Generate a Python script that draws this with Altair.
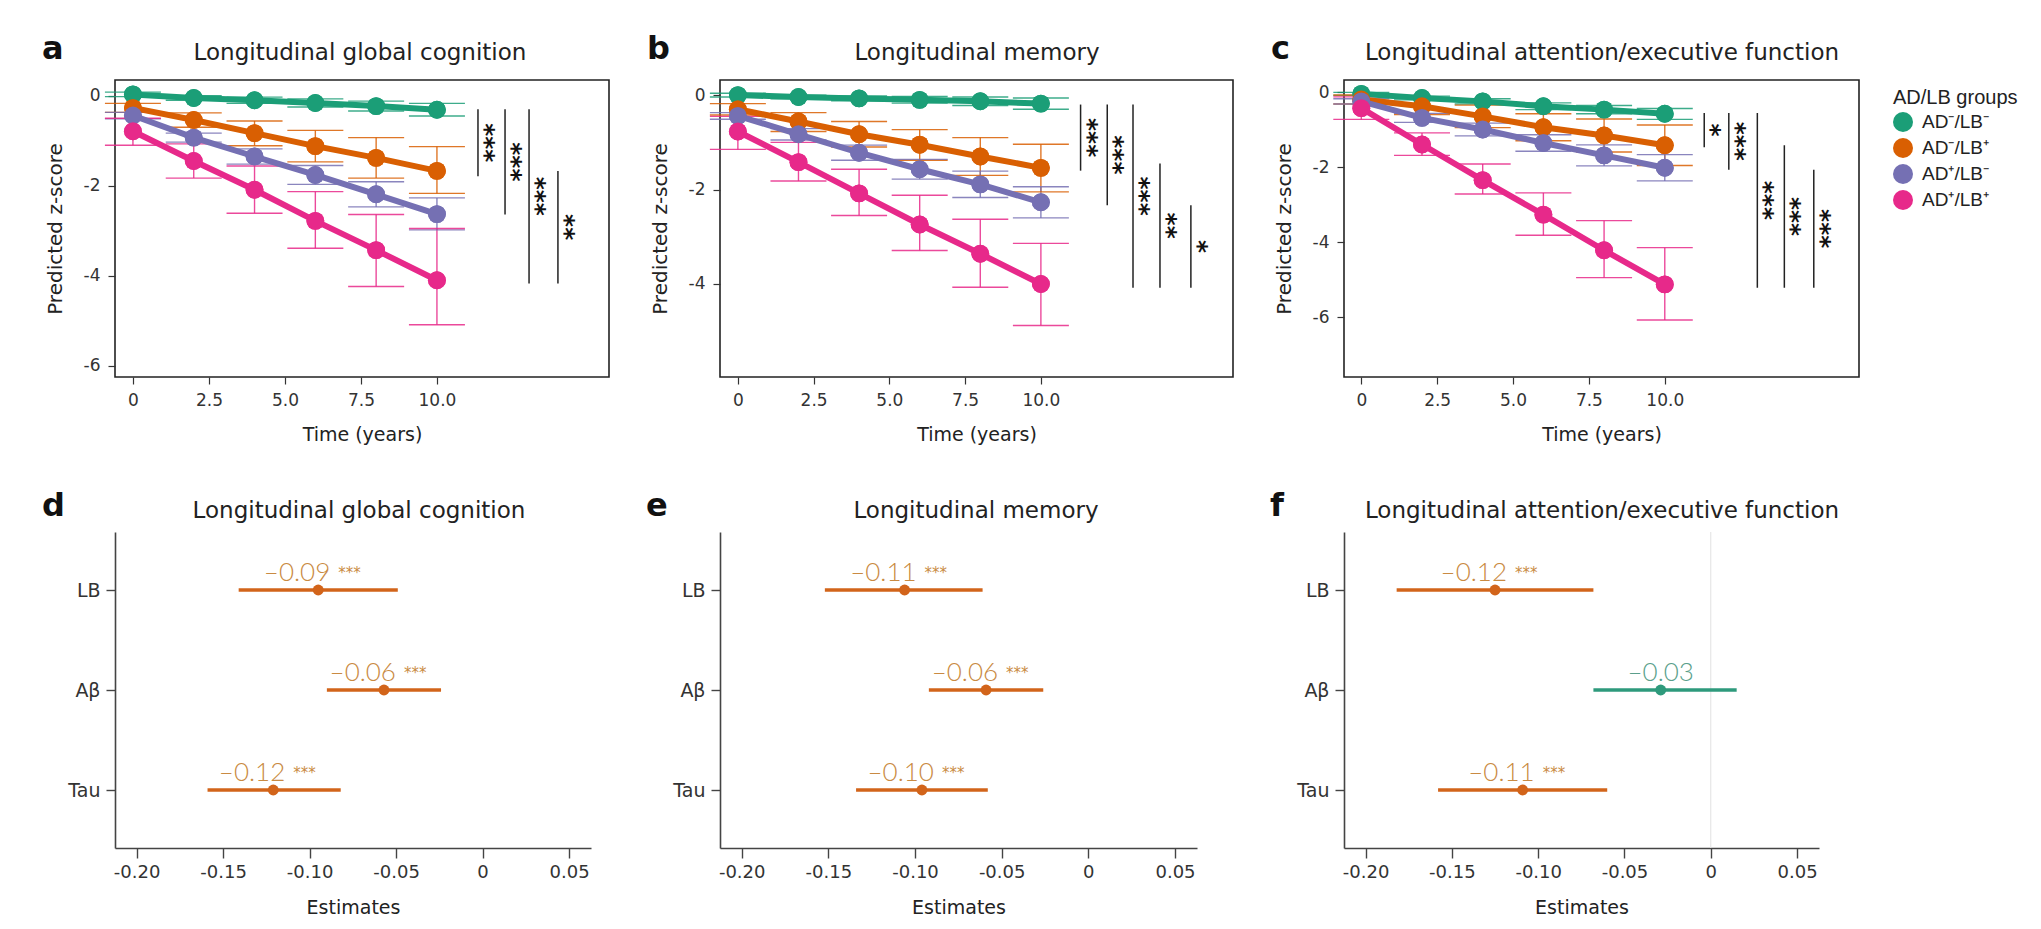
import altair as alt
import pandas as pd

FONT = "DejaVu Sans"
LFONT = "Liberation Sans"
NFONT = "Lato"

groups = ["AD⁻/LB⁻", "AD⁻/LB⁺", "AD⁺/LB⁻", "AD⁺/LB⁺"]
group_colors = ["#1b9e77", "#d95f02", "#7570b3", "#e7298a"]
years = [0, 2, 4, 6, 8, 10]
time_ticks = [0, 2.5, 5, 7.5, 10]

# ---- panel a: longitudinal global cognition (rows follow `groups`)
a_mean = [[0.03, -0.05, -0.10, -0.16, -0.23, -0.31],
          [-0.27, -0.54, -0.83, -1.12, -1.38, -1.67],
          [-0.44, -0.93, -1.35, -1.76, -2.19, -2.63],
          [-0.79, -1.45, -2.09, -2.78, -3.43, -4.10]]
a_lo = [[-0.02, -0.10, -0.17, -0.25, -0.34, -0.45],
        [-0.37, -0.70, -1.11, -1.47, -1.83, -2.17],
        [-0.51, -1.03, -1.52, -1.97, -2.47, -2.98],
        [-1.10, -1.83, -2.61, -3.39, -4.24, -5.09]]
a_hi = [[0.08, 0.00, -0.03, -0.07, -0.12, -0.17],
        [-0.17, -0.38, -0.56, -0.77, -0.93, -1.13],
        [-0.37, -0.83, -1.18, -1.55, -1.91, -2.27],
        [-0.50, -1.07, -1.56, -2.13, -2.64, -2.95]]
a_br_x = [11.35, 12.24, 13.03, 13.98]
a_br_y1 = [-0.30, -0.30, -0.30, -1.67]
a_br_y2 = [-1.79, -2.64, -4.17, -4.17]
a_br_stars = ["***", "***", "***", "**"]

# ---- panel b: longitudinal memory
b_mean = [[0.00, -0.04, -0.07, -0.10, -0.13, -0.18],
          [-0.30, -0.56, -0.83, -1.05, -1.30, -1.54],
          [-0.44, -0.83, -1.22, -1.57, -1.89, -2.27],
          [-0.77, -1.42, -2.08, -2.74, -3.36, -4.00]]
b_lo = [[-0.04, -0.08, -0.12, -0.17, -0.22, -0.30],
        [-0.42, -0.77, -1.10, -1.38, -1.70, -2.05],
        [-0.51, -0.95, -1.38, -1.78, -2.17, -2.60],
        [-1.15, -1.82, -2.55, -3.29, -4.07, -4.88]]
b_hi = [[0.04, 0.00, -0.02, -0.03, -0.04, -0.06],
        [-0.18, -0.37, -0.56, -0.73, -0.90, -1.04],
        [-0.37, -0.71, -1.06, -1.36, -1.61, -1.94],
        [-0.45, -1.00, -1.57, -2.12, -2.63, -3.14]]
b_br_x = [11.31, 12.19, 13.04, 13.93, 14.95]
b_br_y1 = [-0.20, -0.20, -0.20, -1.45, -2.33]
b_br_y2 = [-1.60, -2.33, -4.08, -4.08, -4.08]
b_br_stars = ["***", "***", "***", "**", "*"]

# ---- panel c: longitudinal attention/executive function
c_mean = [[-0.05, -0.16, -0.25, -0.38, -0.47, -0.58],
          [-0.20, -0.38, -0.65, -0.94, -1.16, -1.42],
          [-0.25, -0.69, -1.00, -1.36, -1.69, -2.02],
          [-0.43, -1.40, -2.35, -3.27, -4.22, -5.13]]
c_lo = [[-0.09, -0.21, -0.32, -0.47, -0.58, -0.73],
        [-0.32, -0.60, -0.95, -1.30, -1.60, -1.96],
        [-0.32, -0.81, -1.17, -1.58, -1.97, -2.37],
        [-0.73, -1.69, -2.72, -3.82, -4.95, -6.08]]
c_hi = [[-0.01, -0.11, -0.18, -0.29, -0.36, -0.44],
        [-0.08, -0.16, -0.35, -0.58, -0.72, -0.88],
        [-0.18, -0.57, -0.83, -1.14, -1.41, -1.67],
        [-0.13, -1.09, -1.92, -2.69, -3.43, -4.15]]
c_br_x = [11.30, 12.11, 13.05, 13.94, 14.91]
c_br_y1 = [-0.56, -0.56, -0.56, -1.42, -2.07]
c_br_y2 = [-1.47, -2.07, -5.22, -5.22, -5.22]
c_br_stars = ["*", "***", "***", "***", "***"]

# ---- panels d-f: estimates
terms = ["LB", "Aβ", "Tau"]
est_ticks = [-0.20, -0.15, -0.10, -0.05, 0, 0.05]
d_est = [-0.095, -0.057, -0.121]
d_lo = [-0.141, -0.090, -0.159]
d_hi = [-0.049, -0.024, -0.082]
d_text = ["–0.09", "–0.06", "–0.12"]
d_stars = ["***", "***", "***"]
e_est = [-0.106, -0.059, -0.096]
e_lo = [-0.152, -0.092, -0.134]
e_hi = [-0.061, -0.026, -0.058]
e_text = ["–0.11", "–0.06", "–0.10"]
e_stars = ["***", "***", "***"]
f_est = [-0.125, -0.029, -0.109]
f_lo = [-0.182, -0.068, -0.158]
f_hi = [-0.068, 0.015, -0.060]
f_text = ["–0.12", "–0.03", "–0.11"]
f_stars = ["***", "", "***"]

SIG_LINE = "#d2641a"
NS_LINE = "#2e9a7c"
SIG_TEXT = "#c98a42"
NS_TEXT = "#5a9f8b"


def top_panel(letter, title, title_cx, means, los, his, bx, by1, by2, bstars,
              width, xdom, ydom, yticks):
    rows = []
    for g, m, l, h in zip(groups, means, los, his):
        for t, mv, lv, hv in zip(years, m, l, h):
            rows.append({"group": g, "time": t, "mean": mv, "lo": lv, "hi": hv})
    df = pd.DataFrame(rows)
    bdf = pd.DataFrame({"time": bx, "y1": by1, "y2": by2, "stars": bstars})
    bdf["mid"] = (bdf["y1"] + bdf["y2"]) / 2
    lab = pd.DataFrame({"letter": [letter], "title": [title]})

    xaxis = alt.Axis(values=time_ticks, title="Time (years)", grid=False, domain=False,
                     labelExpr="datum.value == 0 ? '0' : format(datum.value, '.1f')",
                     tickSize=7, tickColor="#333", tickWidth=1.2, labelFlush=False,
                     labelFont=FONT, labelFontSize=17, labelColor="#333", labelPadding=8,
                     titleFont=FONT, titleFontSize=19, titleFontWeight="normal",
                     titleColor="#222", titleY=48)
    yaxis = alt.Axis(values=yticks, title="Predicted z-score", grid=False, domain=False,
                     labelExpr="datum.value == 0 ? '0' : '-' + format(abs(datum.value), 'd')",
                     tickSize=7, tickColor="#333", tickWidth=1.2, labelFlush=False,
                     labelFont=FONT, labelFontSize=17, labelColor="#333", labelPadding=8,
                     titleFont=FONT, titleFontSize=20, titleFontWeight="normal",
                     titleColor="#222", titleAngle=270, titleBaseline="bottom", titleX=-50)
    xs = alt.Scale(domain=xdom, nice=False, zero=False)
    ys = alt.Scale(domain=ydom, nice=False, zero=False)

    def X(f):
        return alt.X(f"{f}:Q", scale=xs, axis=xaxis)

    def Y(f):
        return alt.Y(f"{f}:Q", scale=ys, axis=yaxis)

    cscale = alt.Scale(domain=groups, range=group_colors)
    c_nolegend = alt.Color("group:N", scale=cscale, legend=None)
    c_legend = alt.Color("group:N", scale=cscale, legend=alt.Legend(
        title="AD/LB groups", orient="none", legendX=1778, legendY=8, padding=0,
        titleFont=LFONT, titleFontSize=20, titleFontWeight="normal", titleColor="#222",
        titlePadding=4, labelFont=LFONT, labelFontSize=19, labelColor="#222",
        symbolType="circle", symbolSize=400, symbolStrokeWidth=0, symbolOpacity=1,
        labelOffset=9, rowPadding=6))

    base = alt.Chart(df)
    pts_legend = base.mark_circle(size=320, opacity=1).encode(
        x=X("time"), y=Y("mean"), color=c_legend)
    bars = base.mark_rule(strokeWidth=1.4, opacity=0.85).encode(
        x=X("time"), y=Y("lo"), y2="hi:Q", color=c_nolegend)
    cap_lo = base.mark_tick(orient="horizontal", size=56, thickness=1.4, opacity=0.85).encode(
        x=X("time"), y=Y("lo"), color=c_nolegend)
    cap_hi = base.mark_tick(orient="horizontal", size=56, thickness=1.4, opacity=0.85).encode(
        x=X("time"), y=Y("hi"), color=c_nolegend)
    line = base.mark_line(strokeWidth=6).encode(x=X("time"), y=Y("mean"), color=c_nolegend)
    pts = base.mark_circle(size=320, opacity=1).encode(
        x=X("time"), y=Y("mean"), color=c_nolegend)
    brk = alt.Chart(bdf).mark_rule(color="#222", strokeWidth=1.5).encode(
        x=X("time"), y=Y("y1"), y2="y2:Q")
    stars = alt.Chart(bdf).mark_text(angle=90, fontSize=25, fontWeight="bold", font=FONT,
                                      align="center", baseline="middle", dy=-7,
                                      color="#111").encode(
        x=X("time"), y=Y("mid"), text="stars:N")
    let = alt.Chart(lab).mark_text(align="left", baseline="alphabetic", fontSize=32,
                                   fontWeight="bold", font=FONT, color="#111").encode(
        x=alt.value(-73), y=alt.value(-21), text="letter:N")
    ttl = alt.Chart(lab).mark_text(align="center", baseline="alphabetic", fontSize=23,
                                   font=FONT, color="#222").encode(
        x=alt.value(title_cx), y=alt.value(-20), text="title:N")
    return alt.layer(pts_legend, bars, cap_lo, cap_hi, line, pts, brk, stars, let,
                     ttl).properties(
        width=width, height=297,
        view=alt.ViewBackground(stroke="#222", strokeWidth=1.6))


def bottom_panel(letter, title, title_cx, letter_x, est, lo, hi, texts, stars, width,
                 zero_line=False):
    df = pd.DataFrame({"term": terms, "est": est, "lo": lo, "hi": hi,
                       "label": texts, "stars": stars})
    lab = pd.DataFrame({"letter": [letter], "title": [title]})

    xaxis = alt.Axis(values=est_ticks, title="Estimates", grid=False, domain=True,
                     domainColor="#444", domainWidth=1.6,
                     labelExpr="datum.value == 0 ? '0' : (datum.value < 0 ? '-' : '') + format(abs(datum.value), '.2f')",
                     tickSize=10, tickColor="#444", tickWidth=1.4, labelFlush=False,
                     labelFont=FONT, labelFontSize=18, labelColor="#333", labelPadding=5,
                     titleFont=FONT, titleFontSize=19, titleFontWeight="normal",
                     titleColor="#222", titleY=50)
    yaxis = alt.Axis(title=None, grid=False, domain=True, domainColor="#444",
                     domainWidth=1.6, tickSize=9, tickColor="#444", tickWidth=1.4,
                     labelFont=FONT, labelFontSize=19, labelColor="#333", labelPadding=6)
    xs = alt.Scale(domain=[-0.2125, 0.0627], nice=False, zero=False)

    def X(f):
        return alt.X(f"{f}:Q", scale=xs, axis=xaxis)

    Y = alt.Y("term:N", sort=terms, scale=alt.Scale(type="point", padding=0.58), axis=yaxis)
    sig_test = "datum.stars != ''"
    line_col = alt.condition(sig_test, alt.value(SIG_LINE), alt.value(NS_LINE))
    base = alt.Chart(df)
    layers = []
    if zero_line:
        layers.append(alt.Chart(pd.DataFrame({"est": [0.0]})).mark_rule(
            color="#e2e2e2", strokeWidth=1).encode(x=X("est")))
    layers.append(base.mark_rule(strokeWidth=3.5).encode(
        x=X("lo"), x2="hi:Q", y=Y, color=line_col))
    layers.append(base.mark_circle(size=120, opacity=1).encode(
        x=X("est"), y=Y, color=line_col))
    layers.append(base.transform_filter(sig_test).mark_text(
        align="right", baseline="alphabetic", dx=12, dy=-9, fontSize=26, font=NFONT,
        fontWeight=300, color=SIG_TEXT).encode(x=X("est"), y=Y, text="label:N"))
    layers.append(base.transform_filter("datum.stars == ''").mark_text(
        align="center", baseline="alphabetic", dy=-9, fontSize=26, font=NFONT,
        fontWeight=300, color=NS_TEXT).encode(x=X("est"), y=Y, text="label:N"))
    layers.append(base.transform_filter(sig_test).mark_text(
        align="left", baseline="alphabetic", dx=20, dy=-12, fontSize=15, font=FONT,
        color=SIG_TEXT).encode(x=X("est"), y=Y, text="stars:N"))
    layers.append(alt.Chart(lab).mark_text(align="left", baseline="alphabetic", fontSize=32,
                                           fontWeight="bold", font=FONT, color="#111").encode(
        x=alt.value(letter_x), y=alt.value(-16), text="letter:N"))
    layers.append(alt.Chart(lab).mark_text(align="center", baseline="alphabetic", fontSize=23,
                                           font=FONT, color="#222").encode(
        x=alt.value(title_cx), y=alt.value(-14), text="title:N"))
    return alt.layer(*layers).properties(
        width=width, height=316, view=alt.ViewBackground(strokeWidth=0))


pa = top_panel("a", "Longitudinal global cognition", 245, a_mean, a_lo, a_hi,
               a_br_x, a_br_y1, a_br_y2, a_br_stars, 494, [-0.59, 15.66], [-6.25, 0.35],
               [0, -2, -4, -6])
pb = top_panel("b", "Longitudinal memory", 257, b_mean, b_lo, b_hi,
               b_br_x, b_br_y1, b_br_y2, b_br_stars, 513, [-0.59, 16.34], [-5.97, 0.32],
               [0, -2, -4])
pc = top_panel("c", "Longitudinal attention/executive function", 258, c_mean, c_lo, c_hi,
               c_br_x, c_br_y1, c_br_y2, c_br_stars, 515, [-0.57, 16.4], [-7.6, 0.32],
               [0, -2, -4, -6])

pd_ = bottom_panel("d", "Longitudinal global cognition", 244, -73, d_est, d_lo, d_hi,
                   d_text, d_stars, 476)
pe = bottom_panel("e", "Longitudinal memory", 256, -74, e_est, e_lo, e_hi,
                  e_text, e_stars, 477)
pf = bottom_panel("f", "Longitudinal attention/executive function", 258, -74, f_est, f_lo,
                  f_hi, f_text, f_stars, 475, zero_line=True)

chart = alt.concat(
    pa, pb, pc, pd_, pe, pf,
    columns=3, spacing={"row": 155, "column": 111}, bounds="flush", align="each",
).properties(
    padding={"left": 33, "top": 24, "right": 2, "bottom": 2},
    background="white",
).configure_view(strokeWidth=0)

chart.save("out.html", embed_options={"renderer": "svg", "actions": False})
